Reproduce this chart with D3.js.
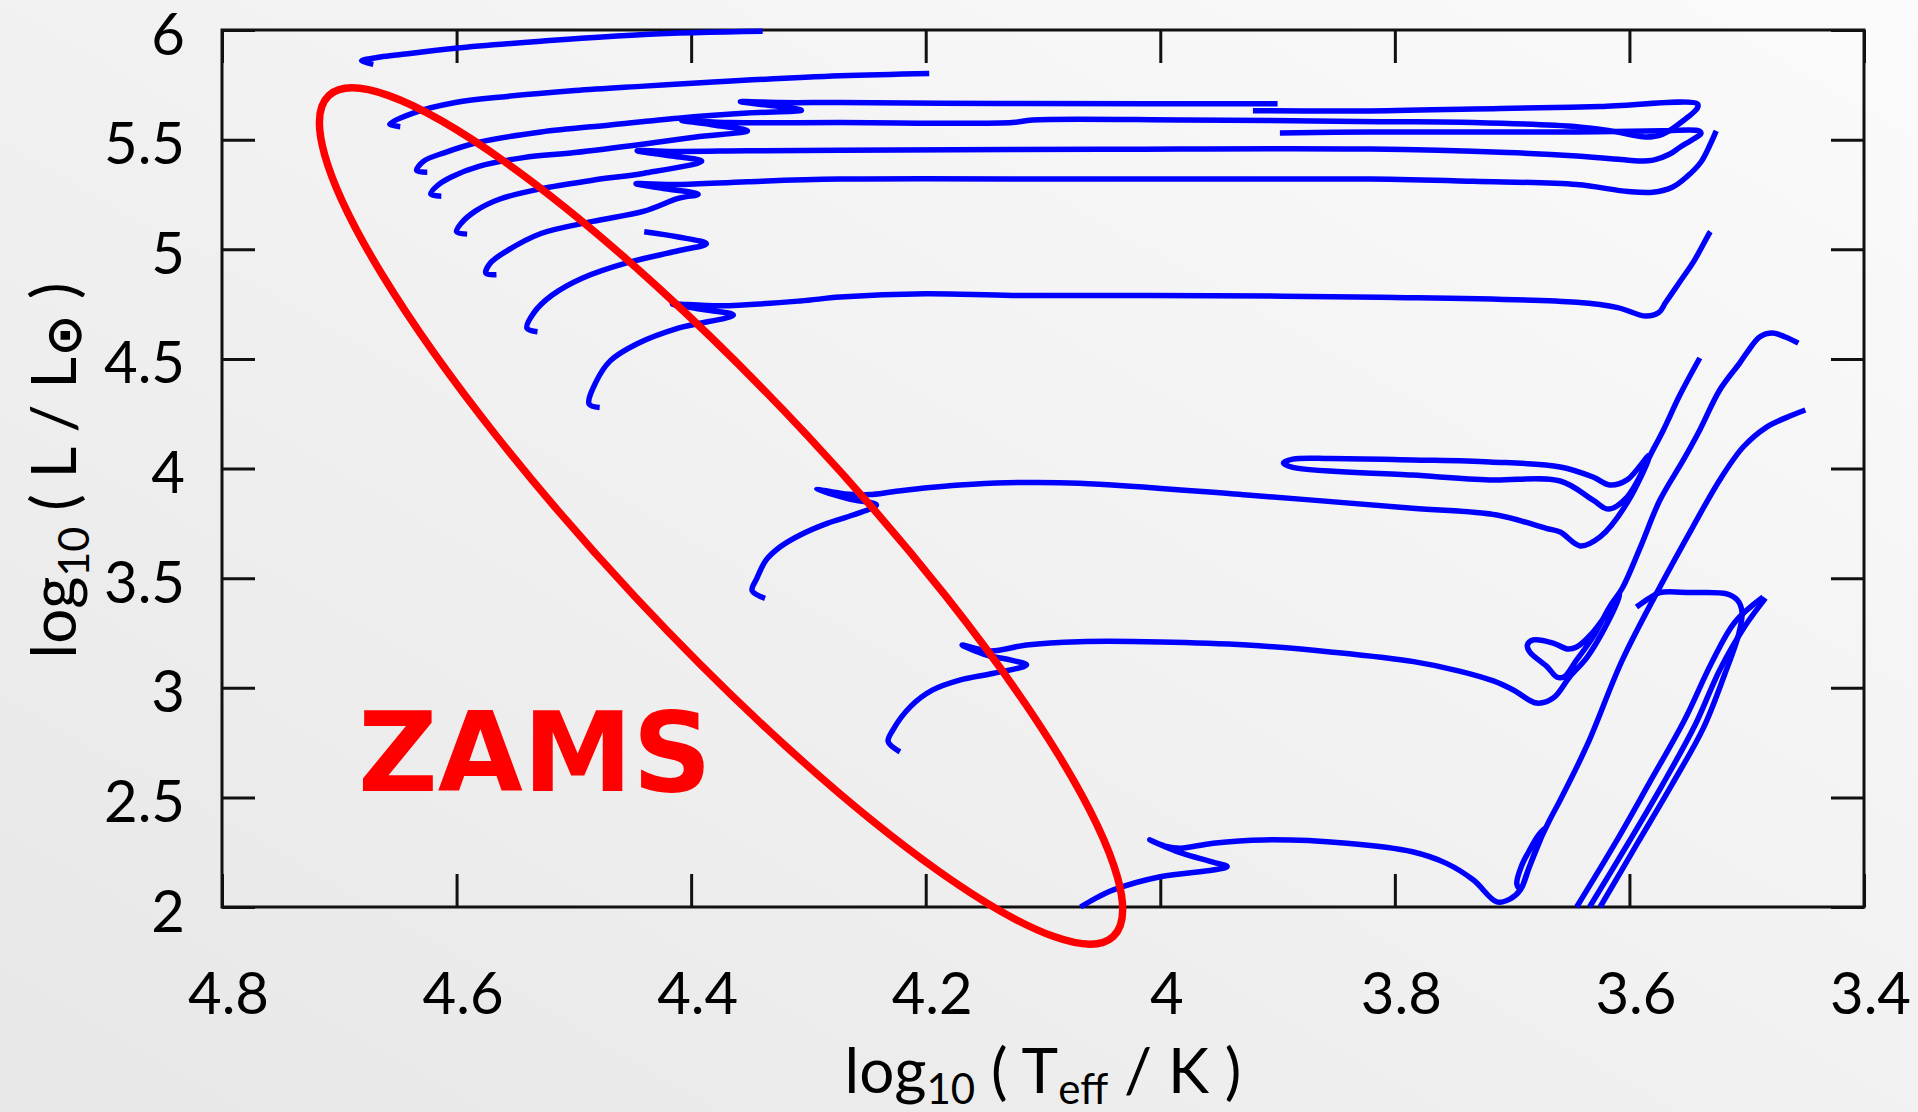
<!DOCTYPE html>
<html>
<head>
<meta charset="utf-8">
<script src="https://cdn.jsdelivr.net/npm/d3@7"></script>
<style>
  html, body { margin: 0; padding: 0; background: #f1f1f1; }
  svg { display: block; }
</style>
</head>
<body>
<svg id="chart" width="1918" height="1112"></svg>
<script>
// Stellar evolutionary tracks in the HR diagram, each point = [log10 Teff, log10 L/Lsun]
const track1 = [[4.671,5.843],[4.681,5.859],[4.665,5.877],[4.646,5.889],[4.601,5.917],[4.528,5.949],[4.440,5.980],[4.339,5.994]];
const track2 = [[4.648,5.559],[4.657,5.570],[4.637,5.621],[4.601,5.669],[4.557,5.697],[4.499,5.724],[4.440,5.744],[4.381,5.763],[4.273,5.791],[4.197,5.802]];
const track3 = [[4.625,5.351],[4.634,5.359],[4.628,5.402],[4.610,5.441],[4.581,5.488],[4.528,5.535],[4.469,5.567],[4.411,5.598],[4.352,5.621],[4.306,5.634],[4.328,5.653],[4.358,5.673],[4.323,5.669],[4.273,5.669],[4.137,5.665],[4.009,5.664],[3.900,5.664]];
const track4 = [[4.613,5.242],[4.622,5.252],[4.616,5.292],[4.604,5.331],[4.581,5.378],[4.543,5.418],[4.499,5.441],[4.440,5.480],[4.396,5.512],[4.352,5.540],[4.381,5.567],[4.408,5.587],[4.367,5.578],[4.273,5.578],[4.126,5.578],[4.109,5.590],[3.980,5.590],[3.813,5.582],[3.733,5.578],[3.645,5.559],[3.616,5.540],[3.586,5.512],[3.572,5.524],[3.557,5.575],[3.542,5.645],[3.542,5.663],[3.625,5.651],[3.710,5.642],[3.821,5.631],[3.921,5.632]];
const track5 = [[4.591,5.069],[4.600,5.080],[4.596,5.119],[4.584,5.174],[4.563,5.229],[4.528,5.276],[4.484,5.315],[4.440,5.347],[4.391,5.402],[4.416,5.425],[4.446,5.449],[4.411,5.446],[4.352,5.449],[4.273,5.452],[4.051,5.456],[3.821,5.457],[3.704,5.441],[3.645,5.425],[3.607,5.409],[3.592,5.402],[3.578,5.409],[3.566,5.433],[3.557,5.465],[3.545,5.504],[3.539,5.528],[3.541,5.540],[3.572,5.540],[3.645,5.535],[3.733,5.535],[3.821,5.535],[3.898,5.530]];
const track6 = [[4.566,4.884],[4.575,4.891],[4.571,4.938],[4.557,4.993],[4.528,5.072],[4.484,5.127],[4.440,5.174],[4.411,5.232],[4.394,5.251],[4.422,5.276],[4.447,5.299],[4.411,5.295],[4.352,5.308],[4.273,5.320],[4.051,5.320],[3.821,5.320],[3.733,5.310],[3.645,5.295],[3.601,5.263],[3.580,5.260],[3.563,5.284],[3.551,5.331],[3.539,5.398],[3.531,5.480],[3.526,5.540]];
const track7 = [[4.531,4.624],[4.540,4.640],[4.534,4.711],[4.519,4.789],[4.493,4.868],[4.455,4.938],[4.411,4.993],[4.387,5.025],[4.411,5.056],[4.440,5.080]];
const track8 = [[4.478,4.278],[4.487,4.294],[4.481,4.396],[4.469,4.491],[4.446,4.569],[4.411,4.640],[4.364,4.700],[4.393,4.727],[4.416,4.750],[4.375,4.742],[4.307,4.764],[4.273,4.782],[4.200,4.797],[4.126,4.789],[4.009,4.789],[3.813,4.781],[3.645,4.758],[3.610,4.734],[3.586,4.695],[3.575,4.711],[3.569,4.758],[3.557,4.852],[3.545,4.946],[3.532,5.072],[3.531,5.080]];
const track9 = [[4.337,3.408],[4.348,3.443],[4.344,3.499],[4.336,3.583],[4.324,3.643],[4.307,3.697],[4.284,3.750],[4.262,3.788],[4.242,3.834],[4.265,3.861],[4.293,3.905],[4.269,3.884],[4.248,3.881],[4.228,3.894],[4.199,3.912],[4.171,3.925],[4.131,3.935],[4.069,3.933],[3.926,3.879],[3.785,3.819],[3.713,3.788],[3.671,3.727],[3.659,3.710],[3.642,3.647],[3.625,3.688],[3.602,3.843],[3.583,4.062],[3.602,3.948],[3.617,3.925],[3.631,3.961],[3.659,4.007],[3.719,4.030],[3.785,4.039],[3.855,4.046],[3.887,4.043],[3.895,4.025],[3.887,4.005],[3.785,3.970],[3.719,3.948],[3.659,3.943],[3.631,3.856],[3.618,3.815],[3.602,3.870],[3.580,4.084],[3.571,4.176],[3.557,4.335],[3.540,4.504]];
const track10 = [[4.222,2.708],[4.232,2.754],[4.228,2.807],[4.213,2.914],[4.194,2.990],[4.171,3.035],[4.142,3.066],[4.114,3.104],[4.128,3.127],[4.148,3.149],[4.169,3.195],[4.145,3.168],[4.114,3.195],[4.069,3.210],[4.000,3.209],[3.926,3.195],[3.855,3.163],[3.784,3.119],[3.745,3.076],[3.716,3.031],[3.699,2.990],[3.679,2.930],[3.665,2.953],[3.651,3.049],[3.636,3.140],[3.621,3.273],[3.608,3.423],[3.617,3.355],[3.631,3.254],[3.645,3.186],[3.653,3.177],[3.665,3.204],[3.682,3.218],[3.687,3.195],[3.685,3.163],[3.670,3.095],[3.662,3.049],[3.656,3.049],[3.645,3.127],[3.631,3.232],[3.617,3.368],[3.606,3.455],[3.591,3.637],[3.574,3.856],[3.554,4.039],[3.540,4.176],[3.523,4.358],[3.506,4.481],[3.500,4.527],[3.489,4.600],[3.478,4.618],[3.467,4.600],[3.456,4.572]];
const track11 = [[4.068,2.000],[4.056,2.037],[4.040,2.078],[4.000,2.138],[3.955,2.169],[3.943,2.184],[3.955,2.205],[3.983,2.248],[4.009,2.306],[3.996,2.278],[3.983,2.268],[3.955,2.291],[3.912,2.306],[3.841,2.291],[3.785,2.252],[3.756,2.199],[3.733,2.123],[3.713,2.023],[3.702,2.036],[3.693,2.078],[3.685,2.187],[3.676,2.306],[3.672,2.360],[3.678,2.324],[3.686,2.251],[3.692,2.187],[3.696,2.105],[3.693,2.082],[3.687,2.160],[3.678,2.283],[3.668,2.397],[3.659,2.488],[3.636,2.739],[3.606,3.127],[3.574,3.460],[3.546,3.733],[3.523,3.948],[3.503,4.098],[3.483,4.189],[3.461,4.244],[3.450,4.267]];
const track12 = [[3.645,2.000],[3.612,2.292],[3.583,2.566],[3.553,2.853],[3.530,3.113],[3.510,3.300],[3.486,3.414]];
const track13 = [[3.634,2.000],[3.601,2.292],[3.572,2.556],[3.544,2.830],[3.523,3.081],[3.502,3.277],[3.484,3.409]];
const track14 = [[3.625,2.000],[3.593,2.292],[3.564,2.556],[3.537,2.816],[3.519,3.058],[3.507,3.241],[3.504,3.346],[3.508,3.400],[3.517,3.428],[3.548,3.434],[3.574,3.434],[3.583,3.409],[3.594,3.368]];

const tracks = [track1, track2, track3, track4, track5, track6, track7, track8,
                track9, track10, track11, track12, track13, track14];

// Axis ticks
const xTicks = [4.8, 4.6, 4.4, 4.2, 4.0, 3.8, 3.6, 3.4];
const yTicks = [2, 2.5, 3, 3.5, 4, 4.5, 5, 5.5, 6];

// ZAMS outline: the two ends of its long axis, in [log Teff, log L]
const zamsTips = [[4.7089, 5.7013], [4.0401, 1.8655]];
const zamsText = "ZAMS";

// ---------------------------------------------------------------
const W = 1918, H = 1112;
const plot = { left: 222, top: 30, right: 1864, bottom: 907 };
const svg = d3.select('#chart');

const defs = svg.append('defs');
const grad = defs.append('linearGradient').attr('id', 'bg')
  .attr('x1', '100%').attr('y1', '0%').attr('x2', '0%').attr('y2', '100%');
grad.append('stop').attr('offset', '0%').attr('stop-color', '#fbfbfb');
grad.append('stop').attr('offset', '100%').attr('stop-color', '#e7e7e7');
svg.append('rect').attr('width', W).attr('height', H).attr('fill', 'url(#bg)');

const x = d3.scaleLinear().domain([4.8, 3.4]).range([plot.left, plot.right]);
const y = d3.scaleLinear().domain([2, 6]).range([plot.bottom, plot.top]);
const fmt = d => String(+d.toFixed(1));
const TICK = 33;
const tickFont = 'Lato, "Open Sans", sans-serif';

function styleAxis(g) {
  g.select('.domain').remove();
  g.attr('font-family', tickFont).attr('font-size', 58).attr('color', '#111');
  g.selectAll('.tick line').attr('stroke-width', 3);
  g.selectAll('.tick text').attr('fill', '#000');
}

svg.append('g').attr('transform', `translate(0,${plot.bottom})`)
  .call(d3.axisBottom(x).tickValues(xTicks).tickSize(-TICK).tickSizeOuter(0).tickFormat(fmt))
  .call(styleAxis)
  .call(g => g.selectAll('.tick text').attr('y', 107).attr('dy', null).attr('x', 6));

svg.append('g').attr('transform', `translate(0,${plot.top})`)
  .call(d3.axisTop(x).tickValues(xTicks).tickSize(-TICK).tickSizeOuter(0).tickFormat(''))
  .call(styleAxis);

svg.append('g').attr('transform', `translate(${plot.left},0)`)
  .call(d3.axisLeft(y).tickValues(yTicks).tickSize(-TICK).tickSizeOuter(0).tickFormat(fmt))
  .call(styleAxis)
  .call(g => g.selectAll('.tick text').attr('x', -37).attr('dy', null).attr('y', 24));

svg.append('g').attr('transform', `translate(${plot.right},0)`)
  .call(d3.axisRight(y).tickValues(yTicks).tickSize(-TICK).tickSizeOuter(0).tickFormat(''))
  .call(styleAxis);

svg.append('rect')
  .attr('x', plot.left).attr('y', plot.top)
  .attr('width', plot.right - plot.left).attr('height', plot.bottom - plot.top)
  .attr('fill', 'none').attr('stroke', '#111').attr('stroke-width', 3);

// Axis titles
const xTitle = svg.append('text')
  .attr('x', (plot.left + plot.right) / 2).attr('y', 1093)
  .attr('text-anchor', 'middle').attr('font-family', tickFont).attr('font-size', 62)
  .attr('fill', '#000').style('white-space', 'pre');
xTitle.append('tspan').text('log');
xTitle.append('tspan').attr('font-size', 42).attr('dy', 11).text('10');
xTitle.append('tspan').attr('dy', -11).text(' ( T');
xTitle.append('tspan').attr('font-size', 42).attr('dy', 11).text('eff');
xTitle.append('tspan').attr('dy', -11).text(' / K )');

const yTitle = svg.append('text')
  .attr('transform', `translate(76,${(plot.top + plot.bottom) / 2 + 2}) rotate(-90)`)
  .attr('text-anchor', 'middle').attr('font-family', tickFont).attr('font-size', 62)
  .attr('fill', '#000').style('white-space', 'pre');
yTitle.append('tspan').text('log');
yTitle.append('tspan').attr('font-size', 43).attr('dy', 13).text('10');
yTitle.append('tspan').attr('dy', -13).text(' ( L / L');
yTitle.append('tspan').attr('font-family', '"DejaVu Sans", sans-serif').attr('font-weight', 'bold')
  .attr('font-size', 50).attr('dy', 5).text('\u2299');
yTitle.append('tspan').attr('dy', -5).text(' )');

// Tracks
const line = d3.line()
  .x(d => x(d[0])).y(d => y(d[1]))
  .curve(d3.curveCatmullRom.alpha(0.5));

svg.append('g').attr('class', 'tracks')
  .selectAll('path').data(tracks).join('path')
  .attr('d', line)
  .attr('fill', 'none').attr('stroke', '#0000ff')
  .attr('stroke-width', 5.5).attr('stroke-linejoin', 'round');

// ZAMS outline
const p1 = [x(zamsTips[0][0]), y(zamsTips[0][1])];
const p2 = [x(zamsTips[1][0]), y(zamsTips[1][1])];
const cx = (p1[0] + p2[0]) / 2, cy = (p1[1] + p2[1]) / 2;
const rx = Math.hypot(p2[0] - p1[0], p2[1] - p1[1]) / 2;
const angle = Math.atan2(p2[1] - p1[1], p2[0] - p1[0]) * 180 / Math.PI;
const zamsHalfWidth = 118;
svg.append('ellipse')
  .attr('cx', cx).attr('cy', cy).attr('rx', rx).attr('ry', zamsHalfWidth)
  .attr('transform', `rotate(${angle},${cx},${cy})`)
  .attr('fill', 'none').attr('stroke', '#ff0000').attr('stroke-width', 7.5);

svg.append('text')
  .attr('x', x(4.684)).attr('y', y(2.529))
  .attr('font-family', '"DejaVu Sans", sans-serif').attr('font-weight', 'bold')
  .attr('font-size', 110).attr('fill', '#ff0000')
  .text(zamsText);
</script>
</body>
</html>
